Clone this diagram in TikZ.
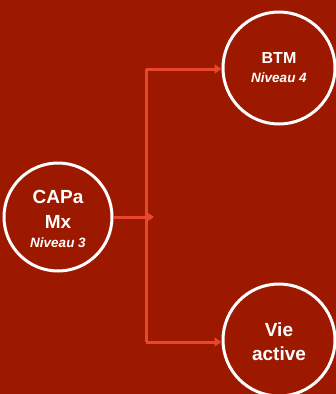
\documentclass[tikz,border=0pt]{standalone}
\usepackage{fontspec}
\setmainfont{Liberation Sans}
\usetikzlibrary{arrows.meta}
\definecolor{bg}{HTML}{9C1900}
\definecolor{ln}{HTML}{E8472C}
\begin{document}
\begin{tikzpicture}[x=1pt,y=-1pt,
  circ/.style={circle,draw=white,line width=3pt,minimum size=108pt,inner sep=0pt},
  big/.style={text=white,font=\bfseries\fontsize{19}{19}\selectfont,anchor=base,inner sep=0pt},
  mid/.style={text=white,font=\bfseries\fontsize{16}{16}\selectfont,anchor=base,inner sep=0pt},
  sm/.style={text=white,font=\bfseries\itshape\fontsize{13.5}{13.5}\selectfont,anchor=base,inner sep=0pt},
  conn/.style={draw=ln,line width=3pt},
  tip/.style={-{Triangle[length=7pt,width=9pt]}}]
\fill[bg] (0,0) rectangle (336,394);
\useasboundingbox (0,0) rectangle (336,394);
\node[circ] (a) at (58,217) {};
\node[circ,minimum size=112pt] (b) at (279,68) {};
\node[circ,minimum size=112pt] (c) at (279,340) {};
\node[big] (a1) at (58,203) {CAPa};
\node[big] (a2) at (58,228) {Mx};
\node[sm] (a3) at (58,247) {Niveau 3};
\node[mid] (b1) at (279,63) {BTM};
\node[sm] (b2) at (279,82) {Niveau 4};
\node[big] (c1) at (279,336) {Vie};
\node[big] (c2) at (279,360) {active};
\coordinate (j) at (146,217);
\coordinate (jt) at (146,69);
\coordinate (jb) at (146,342);
\draw[conn,tip] (a.east) -- (154,217);
\draw[conn] (jt) -- (jb);
\draw[conn,tip] (jt) -- (b.west |- jt);
\draw[conn,tip] (jb) -- (c.west |- jb);
\end{tikzpicture}
\end{document}
